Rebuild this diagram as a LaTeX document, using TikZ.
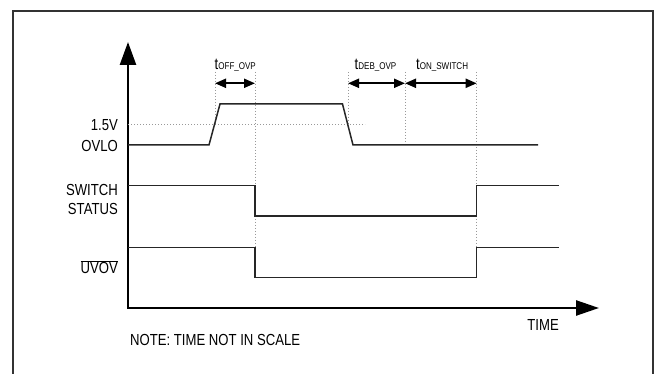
\documentclass[tikz,border=0pt]{standalone}
\usepackage{fontspec}
\setmainfont[FakeStretch=0.82]{Liberation Sans}
\usetikzlibrary{arrows.meta}
\tikzset{
  x=1pt, y=-1pt,
  >={Triangle[length=11pt,width=9pt]},
  every node/.style={font=\fontsize{16}{18}\selectfont, inner sep=0pt},
  frame/.style={line width=2pt, black!80},
  axis/.style={line width=2.5pt, line join=miter},
  signal/.style={line width=1.5pt, black!85},
  guide/.style={line width=0.9pt, gray!80, dash pattern=on 0.9pt off 2.1pt},
  span/.style={<->, line width=2pt},
  sig label/.style={anchor=base east},
}
\newcommand{\tsub}[1]{t{\fontsize{9.8}{10}\selectfont #1}}

\begin{document}
\begin{tikzpicture}
  \useasboundingbox (0,0) rectangle (654,374);
  \draw[frame] (12.5,374) |- (653,11) -- (653,374);

  % axes
  \draw[axis, {Triangle[length=23pt,width=16pt]}-{Triangle[length=23pt,width=15pt]}]
        (128,42) -- (128,308) -- (599,308);

  % threshold and time marks
  \draw[guide] (128,124.3) -- (365,124.3);
  \draw[guide] (215,72) -- (215,124.3);
  \draw[guide] (255,72) -- (255,247.3);
  \draw[guide] (348,72) -- (348,124.3);
  \draw[guide] (405,72) -- (405,145);
  \draw[guide] (476.7,72) -- (476.7,247.3);

  % waveforms
  \draw[signal] (128,145) -- (209,145) -- (220,104) -- (342.5,104) -- (353,145) -- (538,145);
  \draw[signal] (128,185.7) -| (255,216) -| (476.7,185.7) -- (559,185.7);
  \draw[signal] (128,247.3) -| (255,277.7) -| (476.7,247.3) -- (559,247.3);

  % delay spans
  \foreach \name/\x in {a/215, b/255, c/348, d/405, e/476.7}
    \coordinate (\name) at (\x,83.3);
  \draw[span] (a) -- (b);
  \draw[span] (c) -- (d);
  \draw[span] (d) -- (e);

  \node[anchor=base west] (toff) at (214.5,70) {\tsub{OFF\_OVP}};
  \node[anchor=base west] (tdeb) at (354.5,70) {\tsub{DEB\_OVP}};
  \node[anchor=base west] (ton)  at (416,70)   {\tsub{ON\_SWITCH}};

  % signal names
  \node[sig label] (thr)  at (118,131)   {1.5V};
  \node[sig label] (ovlo) at (118,152)   {OVLO};
  \node[sig label] (sw)   at (118,195.7) {SWITCH};
  \node[sig label] (stat) at (118,214.3) {STATUS};
  \node[sig label] (uvov) at (118,273.3) {$\overline{\hbox{UVOV}}$};

  \node[anchor=base east] (time) at (559,331) {TIME};
  \node[anchor=base west] (note) at (130,345) {NOTE: TIME NOT IN SCALE};
\end{tikzpicture}
\end{document}
